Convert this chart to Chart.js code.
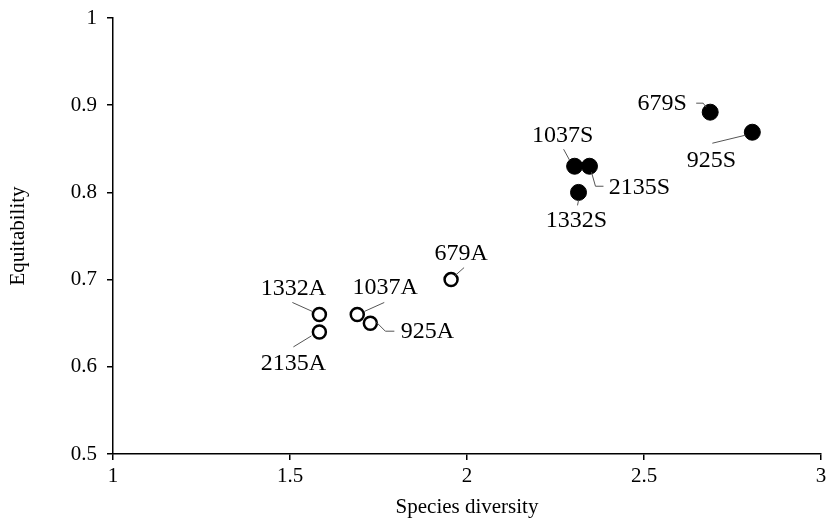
<!DOCTYPE html>
<html>
<head>
<meta charset="utf-8">
<script src="https://cdn.jsdelivr.net/npm/chart.js@4"></script>
<style>
  html, body { margin: 0; background: #fff; }
</style>
</head>
<body>
<canvas id="grafica" width="830" height="520"></canvas>
<script>
// Datos: serie A (círculos vacíos) y serie S (círculos llenos)
const etiquetasA = ['679A', '925A', '1037A', '1332A', '2135A'];
const diversidadA = [1.955, 1.727, 1.69, 1.583, 1.583];
const equitabilidadA = [0.70, 0.65, 0.66, 0.66, 0.64];

const etiquetasS = ['679S', '925S', '1037S', '1332S', '2135S'];
const diversidadS = [2.687, 2.806, 2.304, 2.315, 2.346];
const equitabilidadS = [0.892, 0.869, 0.83, 0.80, 0.83];

const ticksX = [1, 1.5, 2, 2.5, 3];
const ticksY = [0.5, 0.6, 0.7, 0.8, 0.9, 1];

// Posición de cada etiqueta respecto a su punto (texto y línea guía)
const posEtiquetas = {
  '679S':  { t: [-48, -8],  l: [[-14, -9], [-7, -9], [-4, -5]] },
  '925S':  { t: [-41, 28],  l: [[-40, 11], [-7, 3]] },
  '1037S': { t: [-12, -31], l: [[-11, -17], [-5, -6]] },
  '2135S': { t: [50, 21],   l: [[2, 6], [6, 20], [14, 20]] },
  '1332S': { t: [-2, 28],   l: [[0, 8], [-1, 13]] },
  '679A':  { t: [10, -26],  l: [[4, -4], [13, -12]] },
  '1037A': { t: [28, -27],  l: [[7, -3], [27, -12]] },
  '925A':  { t: [57, 9],    l: [[6, -1], [15, 8], [24, 8]] },
  '1332A': { t: [-26, -26], l: [[-27, -12], [-7, -3]] },
  '2135A': { t: [-26, 32],  l: [[-26, 15], [-8, 4]] }
};

const fuente = '"Liberation Serif", "Times New Roman", serif';

function puntos(xs, ys) {
  return xs.map((x, i) => ({ x: x, y: ys[i] }));
}

const pluginEtiquetas = {
  id: 'etiquetas',
  afterDatasetsDraw(chart) {
    const c = chart.ctx;
    c.save();
    chart.data.datasets.forEach((ds, di) => {
      const meta = chart.getDatasetMeta(di);
      meta.data.forEach((el, i) => {
        const nombre = ds.nombres[i];
        const p = posEtiquetas[nombre];
        if (!p) return;
        c.strokeStyle = '#555';
        c.lineWidth = 1;
        c.beginPath();
        p.l.forEach((q, k) => {
          if (k === 0) c.moveTo(el.x + q[0], el.y + q[1]);
          else c.lineTo(el.x + q[0], el.y + q[1]);
        });
        c.stroke();
        c.fillStyle = '#000';
        c.font = '24px ' + fuente;
        c.textAlign = 'center';
        c.textBaseline = 'middle';
        c.fillText(nombre, el.x + p.t[0], el.y + p.t[1]);
      });
    });
    c.restore();
  }
};

const ctx = document.getElementById('grafica').getContext('2d');

new Chart(ctx, {
  type: 'scatter',
  data: {
    datasets: [
      {
        label: 'A',
        nombres: etiquetasA,
        data: puntos(diversidadA, equitabilidadA),
        pointRadius: 6.5,
        pointBorderWidth: 2.5,
        pointBackgroundColor: '#fff',
        pointBorderColor: '#000'
      },
      {
        label: 'S',
        nombres: etiquetasS,
        data: puntos(diversidadS, equitabilidadS),
        pointRadius: 8,
        pointBorderWidth: 1,
        pointBackgroundColor: '#000',
        pointBorderColor: '#000'
      }
    ]
  },
  plugins: [pluginEtiquetas],
  options: {
    responsive: false,
    animation: false,
    layout: { padding: { top: 18, right: 0, left: 0, bottom: 0 } },
    plugins: {
      legend: { display: false },
      tooltip: { enabled: false }
    },
    scales: {
      x: {
        type: 'linear',
        min: ticksX[0],
        max: ticksX[ticksX.length - 1],
        afterFit: s => {
          s.height = 66;
          s.paddingLeft = 0;
          s.paddingRight = 7;
        },
        afterBuildTicks: s => { s.ticks = ticksX.map(v => ({ value: v })); },
        border: { color: '#000', width: 1.5 },
        grid: { drawOnChartArea: false, color: '#000', lineWidth: 1.5, tickLength: 6 },
        ticks: {
          color: '#000',
          padding: 4,
          font: { family: fuente, size: 21 },
          callback: v => String(v)
        },
        title: {
          display: true,
          text: 'Species diversity',
          color: '#000',
          padding: { top: 0, bottom: 0 },
          font: { family: fuente, size: 21 }
        }
      },
      y: {
        type: 'linear',
        min: ticksY[0],
        max: ticksY[ticksY.length - 1],
        afterFit: s => {
          s.width = 113;
          s.paddingTop = 0;
          s.paddingBottom = 0;
        },
        afterBuildTicks: s => { s.ticks = ticksY.map(v => ({ value: v })); },
        border: { color: '#000', width: 1.5 },
        grid: { drawOnChartArea: false, color: '#000', lineWidth: 1.5, tickLength: 6 },
        ticks: {
          color: '#000',
          padding: 10,
          font: { family: fuente, size: 21 },
          callback: v => String(v)
        },
        title: {
          display: true,
          text: 'Equitability',
          color: '#000',
          padding: { top: 6, bottom: 0 },
          font: { family: fuente, size: 21 }
        }
      }
    }
  }
});
</script>
</body>
</html>
